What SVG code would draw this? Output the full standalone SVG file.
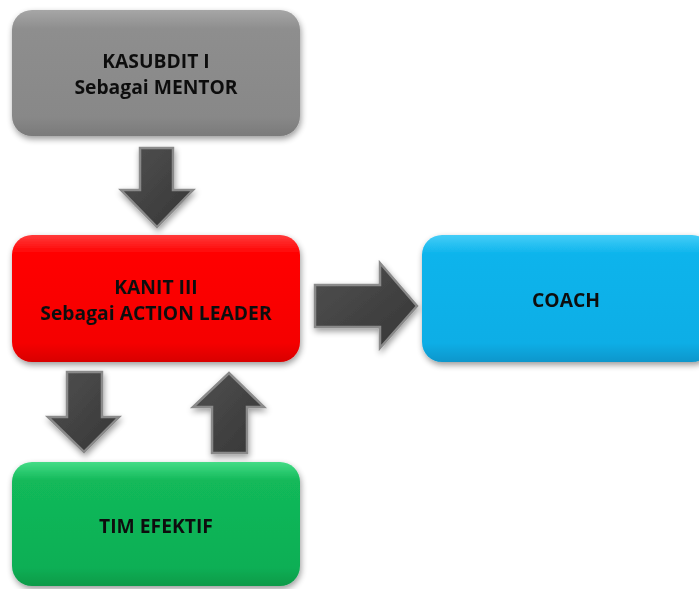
<svg xmlns="http://www.w3.org/2000/svg" width="699" height="589" viewBox="0 0 699 589">
<defs>
<style>
.lbl{font-family:"Open Sans","Liberation Sans",Arial,sans-serif;font-weight:bold;font-size:19.3px;fill:#111;text-anchor:middle}
.arr{stroke:#8a8a8a;stroke-width:2.5;stroke-linejoin:miter}
</style>
<filter id="sh" x="-10%" y="-10%" width="125%" height="130%">
<feGaussianBlur in="SourceAlpha" stdDeviation="3"/>
<feOffset dx="1" dy="3" result="b"/>
<feComponentTransfer><feFuncA type="linear" slope="0.4"/></feComponentTransfer>
<feMerge><feMergeNode/><feMergeNode in="SourceGraphic"/></feMerge>
</filter>
<linearGradient id="gGray" x1="0" y1="0" x2="0" y2="1"><stop offset="0" stop-color="#a6a6a6"/><stop offset="0.15" stop-color="#8e8e8e"/><stop offset="0.85" stop-color="#888"/><stop offset="1" stop-color="#7a7a7a"/></linearGradient>
<linearGradient id="gRed" x1="0" y1="0" x2="0" y2="1"><stop offset="0" stop-color="#ff3a3a"/><stop offset="0.15" stop-color="#ff0000"/><stop offset="0.85" stop-color="#f50000"/><stop offset="1" stop-color="#d80000"/></linearGradient>
<linearGradient id="gBlue" x1="0" y1="0" x2="0" y2="1"><stop offset="0" stop-color="#45cdf7"/><stop offset="0.15" stop-color="#0cb4ec"/><stop offset="0.85" stop-color="#0aaee6"/><stop offset="1" stop-color="#0896cb"/></linearGradient>
<linearGradient id="gGreen" x1="0" y1="0" x2="0" y2="1"><stop offset="0" stop-color="#45dc86"/><stop offset="0.15" stop-color="#12b95a"/><stop offset="0.85" stop-color="#0eaf55"/><stop offset="1" stop-color="#0a9a48"/></linearGradient>
<linearGradient id="gArr" x1="0" y1="0" x2="1" y2="1"><stop offset="0" stop-color="#505050"/><stop offset="1" stop-color="#363636"/></linearGradient>
</defs>
<g id="connectors" filter="url(#sh)">
<polygon class="arr" fill="url(#gArr)" points="140,148 173,148 173,190 193,190 157,227 121,190 140,190"/>
<polygon class="arr" fill="url(#gArr)" points="67,372 102,372 102,417 119,417 84,452 48,417 67,417"/>
<polygon class="arr" fill="url(#gArr)" points="212,453 247,453 247,407 264,407 229,373 193,407 212,407"/>
<polygon class="arr" fill="url(#gArr)" points="315,285 380,285 380,263 417,306 380,348 380,327 315,327"/>
</g>
<g id="kasubdit" filter="url(#sh)">
<rect x="12" y="10" width="288" height="126" rx="20" fill="url(#gGray)"/>
<text class="lbl" x="156" y="68">KASUBDIT I</text>
<text class="lbl" x="156" y="94">Sebagai MENTOR</text>
</g>
<g id="kanit" filter="url(#sh)">
<rect x="12" y="235" width="288" height="127" rx="20" fill="url(#gRed)"/>
<text class="lbl" x="156" y="294">KANIT III</text>
<text class="lbl" x="156" y="320">Sebagai ACTION LEADER</text>
</g>
<g id="coach" filter="url(#sh)">
<rect x="422" y="235" width="290" height="127" rx="20" fill="url(#gBlue)"/>
<text class="lbl" x="566" y="307">COACH</text>
</g>
<g id="tim" filter="url(#sh)">
<rect x="12" y="462" width="288" height="124" rx="20" fill="url(#gGreen)"/>
<text class="lbl" x="156" y="533">TIM EFEKTIF</text>
</g>
</svg>
